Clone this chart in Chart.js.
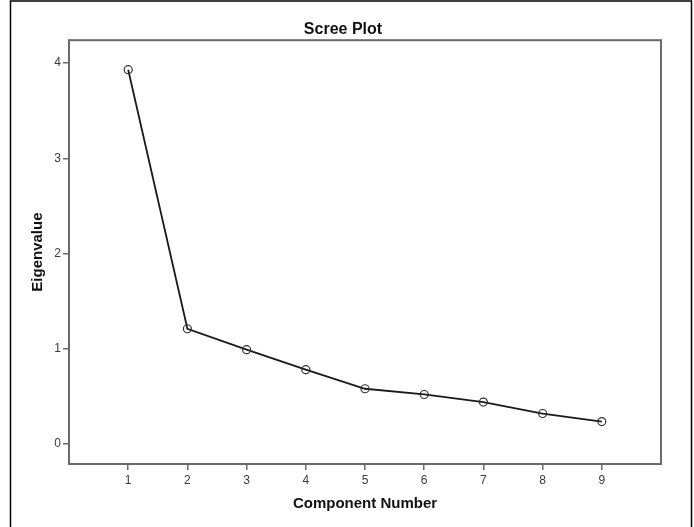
<!DOCTYPE html>
<html>
<head>
<meta charset="utf-8">
<script src="https://cdn.jsdelivr.net/npm/chart.js@4/dist/chart.umd.min.js"></script>
<style>
  html, body { margin: 0; padding: 0; background: #fff; }
  #wrap { width: 694px; height: 527px; position: relative; }
</style>
</head>
<body>
<div id="wrap"><canvas id="scree-chart" width="694" height="527"></canvas></div>
<script>
"use strict";

// component numbers and eigenvalues
let components = [1, 2, 3, 4, 5, 6, 7, 8, 9];
let eigenvalues = [3.93, 1.21, 0.99, 0.78, 0.58, 0.52, 0.44, 0.32, 0.235];
let xTicks = [1, 2, 3, 4, 5, 6, 7, 8, 9];
let yTicks = [0, 1, 2, 3, 4];

let frameColor = "#6a6a6a";
let fontFamily = "Arial, 'Liberation Sans', sans-serif";

let points = [];
for (let i = 0; i < components.length; i++) {
  points.push({ x: components[i], y: eigenvalues[i] });
}

// box around the plot area and the outer picture border
let framePlugin = {
  id: "frame",
  afterDraw(chart) {
    let ctx = chart.ctx;
    let area = chart.chartArea;
    ctx.save();
    ctx.strokeStyle = frameColor;
    ctx.lineWidth = 2;
    ctx.strokeRect(area.left, area.top, area.right - area.left, area.bottom - area.top);
    ctx.strokeStyle = "#000";
    ctx.lineWidth = 1.5;
    ctx.beginPath();
    ctx.moveTo(10.5, 527);
    ctx.lineTo(10.5, 1);
    ctx.lineTo(691.5, 1);
    ctx.lineTo(691.5, 527);
    ctx.stroke();
    ctx.restore();
  },
};

let ctx = document.getElementById("scree-chart");
let chart = new Chart(ctx, {
  type: "scatter",
  data: {
    datasets: [
      {
        label: "Eigenvalue",
        data: points,
        showLine: true,
        borderColor: "#1a1a1a",
        borderWidth: 1.8,
        pointStyle: "circle",
        pointRadius: 4,
        pointBorderWidth: 1.2,
        pointBorderColor: "#333",
        pointBackgroundColor: "rgba(255,255,255,0)",
        tension: 0,
      },
    ],
  },
  options: {
    responsive: false,
    animation: false,
    devicePixelRatio: 1,
    layout: { padding: { left: 25, right: 33, top: 0, bottom: 0 } },
    plugins: {
      legend: { display: false },
      tooltip: { enabled: false },
      title: {
        display: true,
        text: "Scree Plot",
        color: "#111",
        font: { family: fontFamily, size: 16, weight: "bold" },
        padding: { top: 20, bottom: 1 },
      },
    },
    scales: {
      x: {
        type: "linear",
        min: 0,
        max: 10,
        afterFit(scale) {
          scale.height = 63;
        },
        afterBuildTicks(scale) {
          scale.ticks = xTicks.map((v) => ({ value: v }));
        },
        grid: {
          drawOnChartArea: false,
          drawTicks: true,
          tickLength: 6,
          color: frameColor,
          lineWidth: 1.5,
        },
        border: { display: false },
        ticks: {
          color: "#3a3a3a",
          padding: 3,
          font: { family: fontFamily, size: 12 },
        },
        title: {
          display: true,
          text: "Component Number",
          color: "#111",
          font: { family: fontFamily, size: 15, weight: "bold" },
          padding: { top: 0, bottom: 14 },
        },
      },
      y: {
        type: "linear",
        min: -0.21,
        max: 4.24,
        afterFit(scale) {
          scale.width = 44;
        },
        afterBuildTicks(scale) {
          scale.ticks = yTicks.map((v) => ({ value: v }));
        },
        grid: {
          drawOnChartArea: false,
          drawTicks: true,
          tickLength: 6,
          color: frameColor,
          lineWidth: 1.5,
        },
        border: { display: false },
        ticks: {
          color: "#3a3a3a",
          padding: 2,
          font: { family: fontFamily, size: 12 },
        },
        title: {
          display: true,
          text: "Eigenvalue",
          color: "#111",
          font: { family: fontFamily, size: 15, weight: "bold" },
          padding: { top: 4, bottom: 0 },
        },
      },
    },
  },
  plugins: [framePlugin],
});
</script>
</body>
</html>
